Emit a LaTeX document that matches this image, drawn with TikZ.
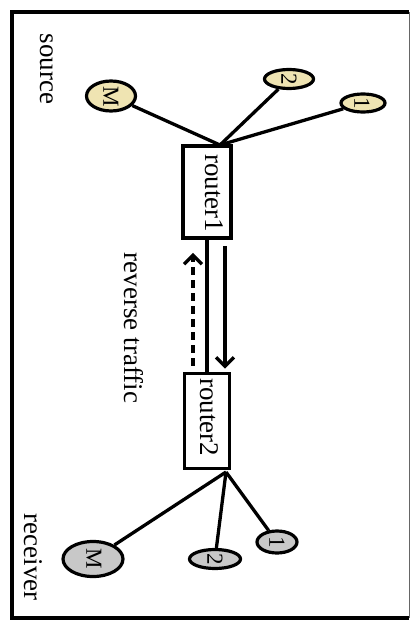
\documentclass[tikz,border=0pt]{standalone}
\usepackage{fontspec}
\setmainfont{Liberation Serif}
\usetikzlibrary{arrows.meta,shapes.geometric}
\definecolor{srcfill}{RGB}{239,228,178}
\definecolor{rcvfill}{RGB}{200,200,200}
\begin{document}
\begin{tikzpicture}[x=1pt,y=-1pt,
  link/.style={line width=3.3pt},
  routerbox/.style={draw, line width=3.8pt, inner sep=0pt, fill=white},
  srcnode/.style={draw, ellipse, line width=3.2pt, fill=srcfill, inner sep=0pt},
  rcvnode/.style={draw, ellipse, line width=3.2pt, fill=rcvfill, inner sep=0pt},
  lbl/.style={rotate=-90, font=\fontsize{27}{30}\selectfont, inner sep=0pt},
  nlbl/.style={rotate=-90, font=\fontsize{23}{26}\selectfont, inner sep=0pt},
  headtip/.style={-{Straight Barb[length=9pt,width=18pt]}}
]
\useasboundingbox (0,0) rectangle (411,621);
% frame
\draw[line width=4.2pt] (409,11.8) -- (11.8,11.8) -- (11.8,618.2) -- (409,618.2);
\draw[line width=1.2pt, black!60] (409.6,11.8) -- (409.6,618.2);

% routers
\node[routerbox, minimum width=48pt, minimum height=92pt] (r1) at (207,192) {};
\node[routerbox, minimum width=45pt, minimum height=95pt] (r2) at (207,421) {};
\node[lbl] (r1t) at (214,193) {router1};
\node[lbl] (r2t) at (209,417) {router2};

% junctions
\coordinate (j1) at (220,145);
\coordinate (j2) at (226,472);

% sources
\node[srcnode, minimum width=49pt, minimum height=30pt] (sM) at (111,96) {};
\node[srcnode, minimum width=49pt, minimum height=19pt] (s2) at (289,79) {};
\node[srcnode, minimum width=44pt, minimum height=18pt] (s1) at (363,103) {};
\node[nlbl] (sMt) at (111,97) {M};
\node[nlbl] (s2t) at (289,79) {2};
\node[nlbl] (s1t) at (362,103) {1};

% receivers
\node[rcvnode, minimum width=60pt, minimum height=35pt] (rM) at (93,559) {};
\node[rcvnode, minimum width=51pt, minimum height=19pt] (r2n) at (215,559) {};
\node[rcvnode, minimum width=40pt, minimum height=22pt] (r1n) at (277,542) {};
\node[nlbl] (rMt) at (94,559) {M};
\node[nlbl] (r2nt) at (215,559) {2};
\node[nlbl] (r1nt) at (277,542) {1};

% connectors
\draw[link] (sM) -- (j1);
\draw[link] (s2) -- (j1);
\draw[link] (s1) -- (j1);
\draw[link] (j2) -- (rM);
\draw[link] (j2) -- (r2n);
\draw[link] (j2) -- (r1n);

\draw[link] (r1.south) -- (r2.north);
\draw[link, headtip] ([xshift=18pt,yshift=-6pt]r1.south) -- ([xshift=18pt,yshift=3pt]r2.north);
\draw[link, headtip, dash pattern=on 8pt off 5pt] ([xshift=-14pt,yshift=6pt]r2.north) -- ([xshift=-14pt,yshift=-13pt]r1.south);

% texts
\node[lbl] (src) at (47,69) {source};
\node[lbl] (rcv) at (33,557) {receiver};
\node[lbl] (rev) at (134,328) {reverse traffic};
\end{tikzpicture}
\end{document}
